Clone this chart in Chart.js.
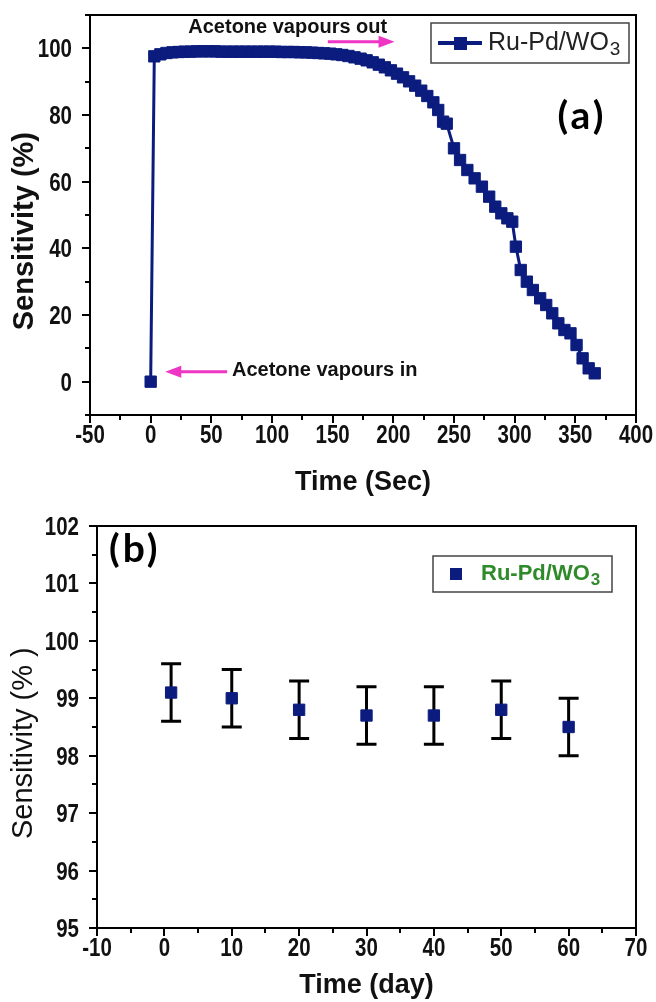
<!DOCTYPE html>
<html>
<head>
<meta charset="utf-8">
<script src="https://cdn.jsdelivr.net/npm/chart.js@4.4.1/dist/chart.umd.min.js"></script>
<style>
    body { margin: 0; background: #fff; }
    #wrap { position: relative; width: 656px; height: 1002px; }
    #chartA { position: absolute; left: 0; top: 0; }
    #chartB { position: absolute; left: 0; top: 500px; }
</style>
</head>
<body>
<div id="wrap">
    <canvas id="chartA" width="656" height="500"></canvas>
    <canvas id="chartB" width="656" height="502"></canvas>
</div>
<script>
//(a) response / recovery curve
const timeSec = [0, 3, 8, 13, 18, 23, 28, 33, 38, 43,
    48, 53, 58, 63, 68, 73, 78, 83, 88, 93,
    98, 103, 108, 113, 118, 123, 128, 133, 138, 143,
    148, 153, 158, 163, 168, 173, 178, 183, 188, 193,
    198, 203, 208, 213, 218, 223, 228, 233, 237, 241,
    244, 250, 255, 261, 267, 273, 279, 284, 289, 294,
    298, 301, 305, 310, 315, 321, 326, 331, 336, 341,
    346, 351, 356, 361, 366];
const sensA = [0, 97.6, 98.2, 98.6, 98.8, 98.9, 99.0, 99.0, 99.1, 99.1,
    99.1, 99.1, 99.0, 99.0, 99.0, 99.0, 99.0, 99.0, 99.0, 99.0,
    99.0, 99.0, 98.9, 98.9, 98.9, 98.8, 98.8, 98.7, 98.6, 98.5,
    98.4, 98.2, 98.0, 97.7, 97.3, 96.9, 96.4, 95.8, 95.1, 94.3,
    93.4, 92.4, 91.3, 90.1, 88.8, 87.3, 85.7, 83.8, 81.5, 78.0,
    77.4, 70.0, 66.5, 63.5, 61.0, 58.5, 55.5, 52.5, 50.5, 49.0,
    48.0, 40.5, 33.5, 30.0, 27.5, 25.0, 23.0, 20.5, 17.5, 15.5,
    14.5, 11.0, 7.0, 4.0, 2.5];

//(b) stability over days
const days = [1, 10, 20, 30, 40, 50, 60];
const sensB = [99.1, 99.0, 98.8, 98.7, 98.7, 98.8, 98.5];
const errB = [0.5, 0.5, 0.5, 0.5, 0.5, 0.5, 0.5];

const seriesName = "Ru-Pd/WO";
const seriesSub = "3";

const navy = "#0b1c7e";
const pink = "#ee35c4";
const textFont = "'Liberation Sans', Arial, sans-serif";

// frame round the plot, major/minor tick marks, narrow tick labels
const frameTicks = {
    id: "frameTicks",
    afterDraw(chart) {
        const ctx = chart.ctx;
        const a = chart.chartArea;
        const xs = chart.scales.x;
        const ys = chart.scales.y;
        ctx.save();
        ctx.strokeStyle = "#000";
        ctx.lineWidth = 2;
        ctx.beginPath();
        xs.ticks.forEach((t) => {
            const px = Math.round(xs.getPixelForValue(t.value));
            const len = t.label ? 8 : 5;
            ctx.moveTo(px, a.bottom);
            ctx.lineTo(px, a.bottom + len);
        });
        ys.ticks.forEach((t) => {
            const py = Math.round(ys.getPixelForValue(t.value));
            const len = t.label ? 8 : 5;
            ctx.moveTo(a.left, py);
            ctx.lineTo(a.left - len, py);
        });
        ctx.stroke();
        ctx.strokeRect(a.left, a.top, a.right - a.left, a.bottom - a.top);

        ctx.fillStyle = "#111";
        ctx.font = "bold 25px " + textFont;
        ctx.textBaseline = "alphabetic";
        xs.ticks.forEach((t) => {
            if (!t.label) return;
            ctx.save();
            ctx.translate(xs.getPixelForValue(t.value), a.bottom + 28);
            ctx.scale(0.82, 1);
            ctx.textAlign = "center";
            ctx.fillText(t.label, 0, 0);
            ctx.restore();
        });
        ys.ticks.forEach((t) => {
            if (!t.label) return;
            ctx.save();
            ctx.translate(a.left - 18, ys.getPixelForValue(t.value) + 9);
            ctx.scale(0.82, 1);
            ctx.textAlign = "right";
            ctx.fillText(t.label, 0, 0);
            ctx.restore();
        });
        ctx.restore();
    },
};

function drawArrow(ctx, x1, y1, x2, y2) {
    const dir = x2 > x1 ? 1 : -1;
    ctx.save();
    ctx.strokeStyle = pink;
    ctx.fillStyle = pink;
    ctx.lineWidth = 3;
    ctx.beginPath();
    ctx.moveTo(x1, y1);
    ctx.lineTo(x2 - dir * 12, y2);
    ctx.stroke();
    ctx.beginPath();
    ctx.moveTo(x2, y2);
    ctx.lineTo(x2 - dir * 16, y2 - 6);
    ctx.lineTo(x2 - dir * 16, y2 + 6);
    ctx.closePath();
    ctx.fill();
    ctx.restore();
}

function drawName(ctx, x, y, size, weight, color) {
    ctx.save();
    ctx.fillStyle = color;
    ctx.textBaseline = "middle";
    ctx.textAlign = "left";
    ctx.font = weight + " " + size + "px " + textFont;
    ctx.fillText(seriesName, x, y);
    const w = ctx.measureText(seriesName).width;
    ctx.font = weight + " " + Math.round(size * 0.75) + "px " + textFont;
    ctx.fillText(seriesSub, x + w + 1, y + size * 0.28);
    ctx.restore();
}

function drawPanelTag(ctx, text, x, y) {
    ctx.save();
    ctx.fillStyle = "#000";
    ctx.font = "bold 39px Lato, 'Open Sans', sans-serif";
    ctx.letterSpacing = "3px";
    ctx.textAlign = "center";
    ctx.textBaseline = "middle";
    ctx.fillText(text, x, y);
    ctx.restore();
}

// annotations of chart (a)
const notesA = {
    id: "notesA",
    afterDraw(chart) {
        const ctx = chart.ctx;
        const xs = chart.scales.x;
        const ys = chart.scales.y;
        const a = chart.chartArea;
        ctx.save();
        ctx.fillStyle = "#111";
        ctx.font = "bold 20px " + textFont;
        ctx.textBaseline = "middle";
        ctx.fillText("Acetone vapours out", xs.getPixelForValue(31), ys.getPixelForValue(106.4));
        ctx.fillText("Acetone vapours in", xs.getPixelForValue(67), ys.getPixelForValue(3.5));
        drawArrow(ctx, xs.getPixelForValue(146), ys.getPixelForValue(102), xs.getPixelForValue(201), ys.getPixelForValue(102));
        drawArrow(ctx, xs.getPixelForValue(63), ys.getPixelForValue(3), xs.getPixelForValue(12), ys.getPixelForValue(3));

        // legend
        const lx = a.right - 205;
        const ly = a.top + 8;
        ctx.strokeStyle = "#444";
        ctx.lineWidth = 1.5;
        ctx.strokeRect(lx, ly, 198, 40);
        ctx.strokeStyle = navy;
        ctx.lineWidth = 4;
        ctx.beginPath();
        ctx.moveTo(lx + 7, ly + 20);
        ctx.lineTo(lx + 51, ly + 20);
        ctx.stroke();
        ctx.fillStyle = navy;
        ctx.fillRect(lx + 23, ly + 14, 13, 13);
        ctx.restore();
        drawName(ctx, lx + 57, ly + 20, 25, "normal", "#222");
        drawPanelTag(ctx, "(a)", xs.getPixelForValue(355.5), ys.getPixelForValue(79.6));
    },
};

// error bars + annotations of chart (b)
const notesB = {
    id: "notesB",
    beforeDatasetsDraw(chart) {
        const ctx = chart.ctx;
        const xs = chart.scales.x;
        const ys = chart.scales.y;
        ctx.save();
        ctx.strokeStyle = "#000";
        ctx.lineWidth = 3;
        ctx.beginPath();
        days.forEach((d, i) => {
            const px = xs.getPixelForValue(d);
            const top = ys.getPixelForValue(sensB[i] + errB[i]);
            const bot = ys.getPixelForValue(sensB[i] - errB[i]);
            ctx.moveTo(px, top);
            ctx.lineTo(px, bot);
            ctx.moveTo(px - 10, top);
            ctx.lineTo(px + 10, top);
            ctx.moveTo(px - 10, bot);
            ctx.lineTo(px + 10, bot);
        });
        ctx.stroke();
        ctx.restore();
    },
    afterDraw(chart) {
        const ctx = chart.ctx;
        const xs = chart.scales.x;
        const ys = chart.scales.y;
        const a = chart.chartArea;
        drawPanelTag(ctx, "(b)", xs.getPixelForValue(-4.4), ys.getPixelForValue(101.6));

        const lx = a.right - 203;
        const ly = a.top + 30;
        ctx.save();
        ctx.strokeStyle = "#444";
        ctx.lineWidth = 1.5;
        ctx.strokeRect(lx, ly, 179, 36);
        ctx.fillStyle = navy;
        ctx.fillRect(lx + 17, ly + 12, 12, 12);
        ctx.restore();
        drawName(ctx, lx + 48, ly + 18, 22, "bold", "#2f8a2a");
    },
};

function tickLabel(major) {
    return function (v) {
        const r = Math.round(v);
        if (Math.abs(v - r) > 1e-6) return "";
        return r % major === 0 ? String(r) : "";
    };
}

function axisTitle(text, size, weight, pad) {
    return {
        display: true,
        text: text,
        color: "#111",
        font: { family: textFont, size: size, weight: weight },
        padding: pad,
    };
}

new Chart(document.getElementById("chartA"), {
    type: "line",
    data: {
        datasets: [
            {
                label: seriesName + seriesSub,
                data: timeSec.map((t, i) => ({ x: t, y: sensA[i] })),
                borderColor: navy,
                borderWidth: 3,
                backgroundColor: navy,
                pointStyle: "rect",
                pointRadius: 8,
                pointBorderWidth: 1,
                pointBorderColor: navy,
                pointBackgroundColor: navy,
                tension: 0,
            },
        ],
    },
    options: {
        responsive: false,
        animation: false,
        events: [],
        layout: { padding: { top: 15, right: 20, left: 0, bottom: 0 } },
        plugins: { legend: { display: false }, tooltip: { enabled: false } },
        scales: {
            x: {
                type: "linear",
                min: -50,
                max: 400,
                grid: { display: false },
                border: { display: false },
                ticks: { display: false, stepSize: 25, autoSkip: false, callback: tickLabel(50) },
                title: axisTitle("Time (Sec)", 27, "bold", { top: 0, bottom: 1 }),
                afterFit: (s) => { s.height = 85; },
            },
            y: {
                type: "linear",
                min: -10,
                max: 110,
                grid: { display: false },
                border: { display: false },
                ticks: {
                    display: false,
                    stepSize: 10,
                    autoSkip: false,
                    callback: (v) => (v >= 0 && v <= 100 && v % 20 === 0 ? String(v) : ""),
                },
                // trailing spaces push the title a bit below the middle, as in the figure
                title: axisTitle("Sensitivity (%)    ", 29, "bold", { top: 8, bottom: 0 }),
                afterFit: (s) => { s.width = 90; },
            },
        },
    },
    plugins: [frameTicks, notesA],
});

new Chart(document.getElementById("chartB"), {
    type: "scatter",
    data: {
        datasets: [
            {
                label: seriesName + seriesSub,
                data: days.map((d, i) => ({ x: d, y: sensB[i] })),
                showLine: false,
                pointStyle: "rect",
                pointRadius: 8,
                pointBorderWidth: 1,
                pointBorderColor: navy,
                pointBackgroundColor: navy,
            },
        ],
    },
    options: {
        responsive: false,
        animation: false,
        events: [],
        layout: { padding: { top: 26, right: 20, left: 0, bottom: 0 } },
        plugins: { legend: { display: false }, tooltip: { enabled: false } },
        scales: {
            x: {
                type: "linear",
                min: -10,
                max: 70,
                grid: { display: false },
                border: { display: false },
                ticks: { display: false, stepSize: 5, autoSkip: false, callback: tickLabel(10) },
                title: axisTitle("Time (day)", 27, "bold", { top: 0, bottom: 0 }),
                afterFit: (s) => { s.height = 74; },
            },
            y: {
                type: "linear",
                min: 95,
                max: 102,
                grid: { display: false },
                border: { display: false },
                ticks: { display: false, stepSize: 0.5, autoSkip: false, callback: tickLabel(1) },
                title: axisTitle("Sensitivity (% )    ", 29, "normal", { top: 7, bottom: 0 }),
                afterFit: (s) => { s.width = 97; },
            },
        },
    },
    plugins: [frameTicks, notesB],
});
</script>
</body>
</html>
